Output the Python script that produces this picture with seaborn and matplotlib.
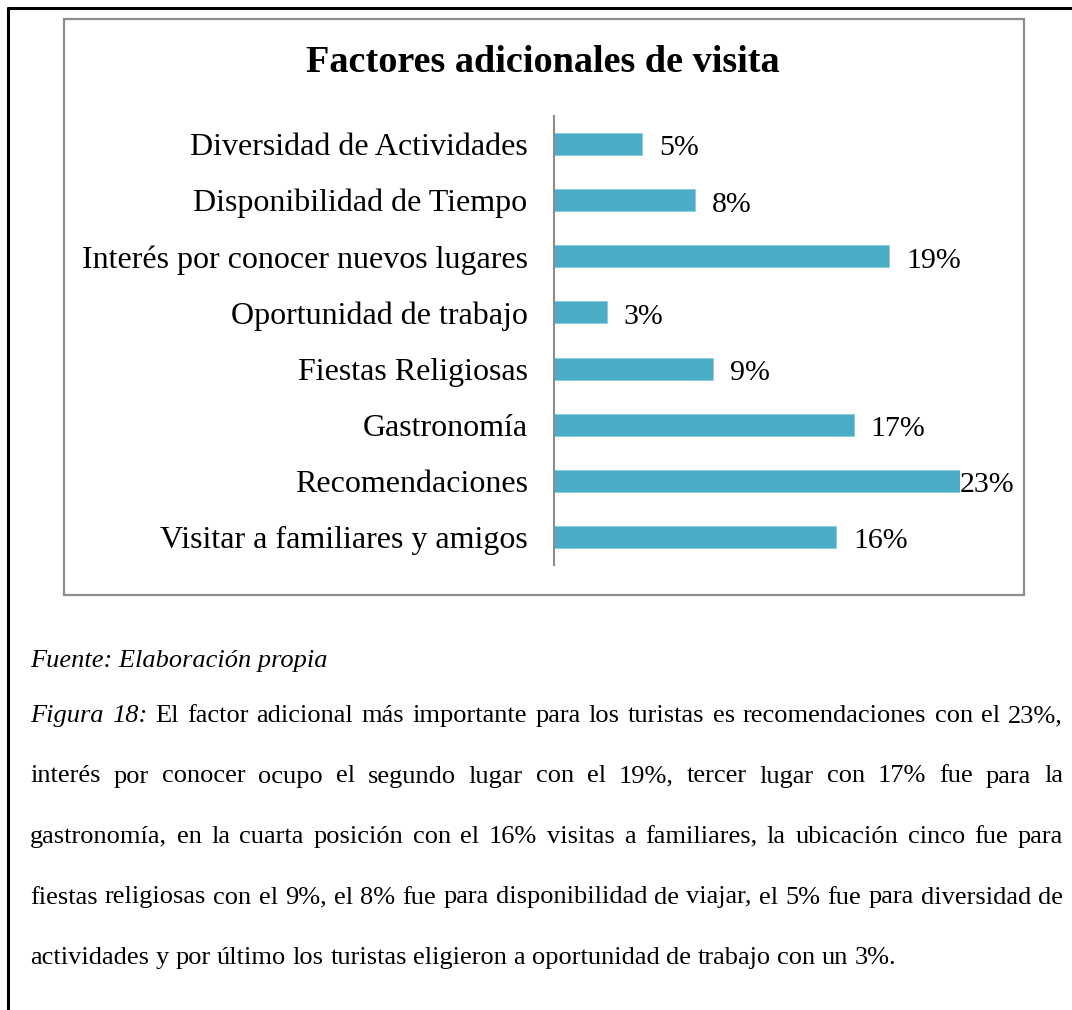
import matplotlib
matplotlib.use('Agg')
import matplotlib.pyplot as plt
from matplotlib.lines import Line2D
from matplotlib.patches import Rectangle
import seaborn as sns

# Data
factores = ['Diversidad de Actividades', 'Disponibilidad de Tiempo',
            'Interés por conocer nuevos lugares', 'Oportunidad de trabajo',
            'Fiestas Religiosas', 'Gastronomía', 'Recomendaciones',
            'Visitar a familiares y amigos']
porcentajes = [5, 8, 19, 3, 9, 17, 23, 16]
titulo = 'Factores adicionales de visita'

fuente = 'Fuente: Elaboración propia'
parrafo = [
    'Figura 18: El factor adicional más importante para los turistas es recomendaciones con el 23%,',
    'interés por conocer ocupo el segundo lugar con el 19%, tercer lugar con 17% fue para la',
    'gastronomía, en la cuarta posición con el 16% visitas a familiares, la ubicación cinco fue para',
    'fiestas religiosas con el 9%, el 8% fue para disponibilidad de viajar, el 5% fue para diversidad de',
    'actividades y por último los turistas eligieron a oportunidad de trabajo con un 3%.',
]

sns.set_style('white')
plt.rcParams['font.family'] = ['Liberation Serif', 'DejaVu Serif']
plt.rcParams['text.color'] = 'black'
plt.rcParams['ytick.color'] = 'black'

W, H = 1072, 1010
fig = plt.figure(figsize=(W / 100, H / 100), dpi=100)


def fx(x):
    return x / W


def fy(y):
    return 1 - y / H


# outer page border (top and left)
fig.add_artist(Line2D([fx(8), fx(W)], [fy(8), fy(8)], color='black', lw=2.2,
                      transform=fig.transFigure))
fig.add_artist(Line2D([fx(8), fx(8)], [fy(8), fy(H)], color='black', lw=2.2,
                      transform=fig.transFigure))

# chart box
fig.add_artist(Rectangle((fx(64), fy(595)), fx(1024 - 64), (595 - 19) / H,
                         transform=fig.transFigure, fill=False,
                         edgecolor='#8c8c8c', lw=1.6))

fig.text(fx(543), fy(63), titulo, ha='center', va='center',
         fontsize=27.5, fontweight='bold')

# bar chart
ax = fig.add_axes([fx(554), fy(565), (960 - 554) / W, (565 - 116) / H])
ax.patch.set_alpha(0)
sns.barplot(x=porcentajes, y=factores, orient='h', color='#4bacc6',
            saturation=1, width=0.39, edgecolor='#8ccbdc', linewidth=0.6, ax=ax)
ax.set_xlim(0, max(porcentajes))
ax.set_ylim(len(factores) - 0.5, -0.5)
for s in ['top', 'right', 'bottom']:
    ax.spines[s].set_visible(False)
ax.spines['left'].set_color('#8c8c8c')
ax.spines['left'].set_linewidth(1.5)
ax.set_xticks([])
ax.set_xlabel('')
ax.set_ylabel('')
ax.tick_params(axis='y', length=0, pad=19, labelsize=23, labelcolor='black')

for i, v in enumerate(porcentajes):
    pad = 0 if v == max(porcentajes) else 12
    ax.annotate(f'{v}%', (v, i), xytext=(pad, -1), textcoords='offset points',
                ha='left', va='center_baseline', fontsize=21.5,
                annotation_clip=False)

# caption text
fs = 19
fig.text(fx(30), fy(667), fuente, fontsize=fs, style='italic', va='baseline')

renderer = fig.canvas.get_renderer()
x0, x1 = 30, 1063
baselines = [722, 782.5, 843, 903.5, 964]
for n, (linea, yb) in enumerate(zip(parrafo, baselines)):
    palabras = linea.split(' ')
    textos = []
    for k, p in enumerate(palabras):
        estilo = 'italic' if (n == 0 and k < 2) else 'normal'
        textos.append(fig.text(0, fy(yb), p, fontsize=fs, style=estilo,
                               va='baseline'))
    anchos = [t.get_window_extent(renderer).width for t in textos]
    if n < len(parrafo) - 1:
        hueco = (x1 - x0 - sum(anchos)) / (len(palabras) - 1)
    else:
        hueco = 6.5
    x = x0
    for t, a in zip(textos, anchos):
        t.set_x(fx(x))
        x += a + hueco

fig.savefig('out.png', dpi=100)
